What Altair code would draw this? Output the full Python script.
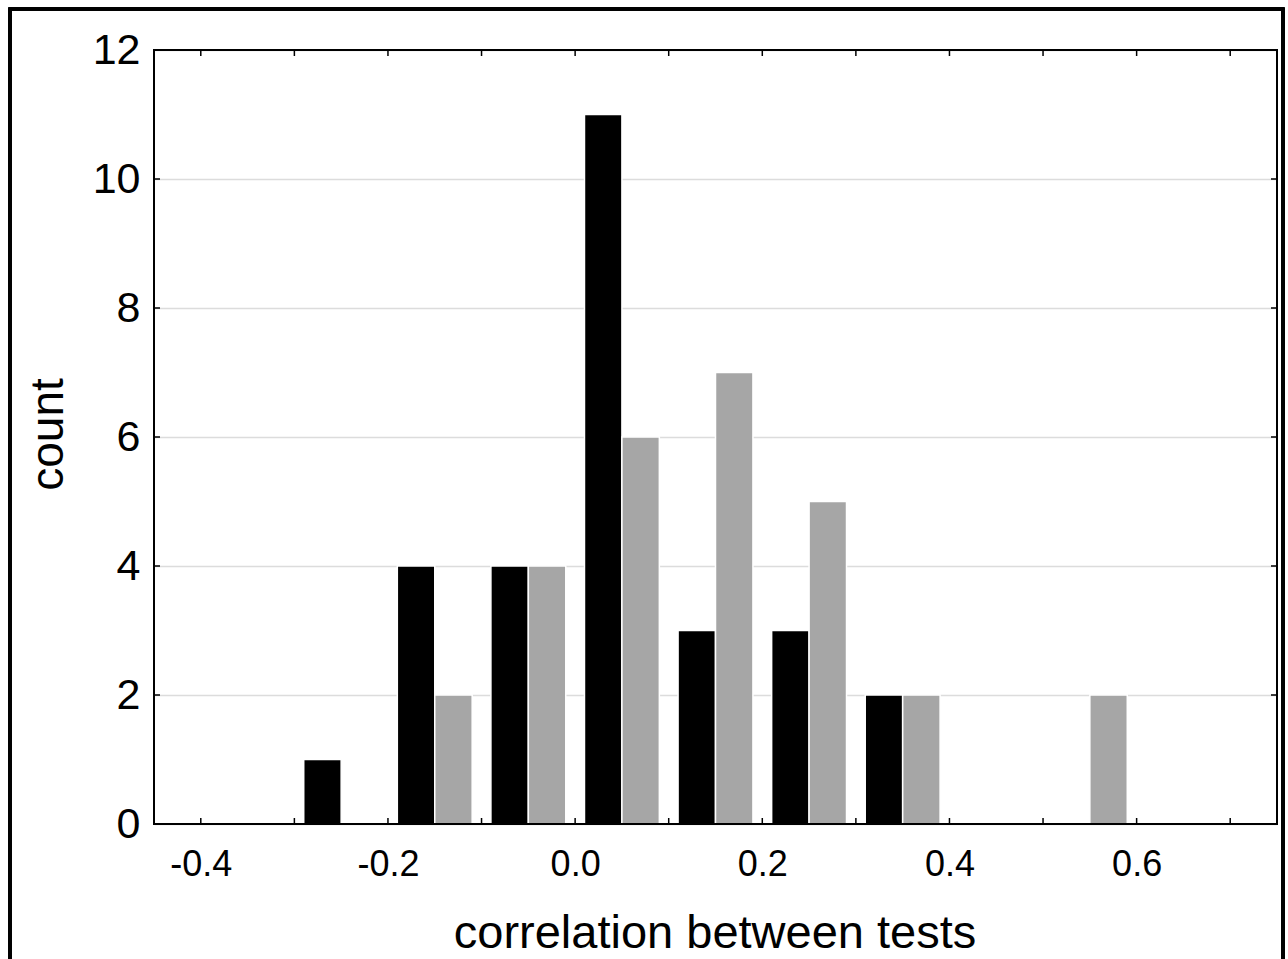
import altair as alt
import pandas as pd

# ---- data ----
bin_starts = [-0.3, -0.2, -0.1, 0.0, 0.1, 0.2, 0.3, 0.4, 0.5]
black_counts = [1, 4, 4, 11, 3, 3, 2, 0, 0]
gray_counts = [0, 2, 4, 6, 7, 5, 2, 0, 2]
series_names = ["black", "gray"]

x_tick_values = [-0.4, -0.3, -0.2, -0.1, 0.0, 0.1, 0.2, 0.3, 0.4, 0.5, 0.6, 0.7]
x_label_values = [-0.4, -0.2, 0.0, 0.2, 0.4, 0.6]
y_tick_values = [0, 2, 4, 6, 8, 10, 12]

rows = []
for b, c in zip(bin_starts, black_counts):
    rows.append({"bin": b, "count": c, "series": series_names[0], "idx": 0})
for b, c in zip(bin_starts, gray_counts):
    rows.append({"bin": b, "count": c, "series": series_names[1], "idx": 1})
df = pd.DataFrame(rows)

xt = pd.DataFrame({"v": x_tick_values})
yt = pd.DataFrame({"v": y_tick_values})

W, H = 1123, 774
FONT = "Liberation Sans"

xscale = alt.Scale(domain=[-0.45, 0.75], nice=False, zero=False)
yscale = alt.Scale(domain=[0, 12], nice=False, zero=True)

bars = (
    alt.Chart(df)
    .transform_filter("datum.count > 0")
    .transform_calculate(x0="datum.bin + 0.01 + 0.04*datum.idx",
                         x1="datum.bin + 0.05 + 0.04*datum.idx")
    .mark_rect(stroke="white", strokeWidth=1.5)
    .encode(
        x=alt.X("x0:Q", scale=xscale,
                axis=alt.Axis(values=x_label_values, format=".1f",
                              labelExpr="replace(datum.label, '\u2212', '-')",
                              tickSize=0,
                              domain=False, grid=False, labelFontSize=36,
                              labelFont=FONT, labelColor="black", labelPadding=23,
                              title="correlation between tests", titleFont=FONT,
                              titleFontSize=47, titleFontWeight="normal",
                              titleColor="black", titleBaseline="alphabetic",
                              titleY=123, titleX=W / 2 - 1, titleAlign="center")),
        x2="x1:Q",
        y=alt.Y("count:Q", scale=yscale,
                axis=alt.Axis(values=y_tick_values, format="d", tickSize=0, domain=False,
                              grid=True, gridColor="#dcdcdc", gridWidth=1.5,
                              labelFontSize=43, labelFont=FONT, labelColor="black",
                              labelPadding=14, title="count", titleFont=FONT,
                              titleFontSize=46, titleFontWeight="normal",
                              titleColor="black", titleAngle=270,
                              titleBaseline="alphabetic", titleAlign="center",
                              titleX=-92, titleY=384)),
        y2=alt.datum(0),
        color=alt.Color("series:N",
                        scale=alt.Scale(domain=series_names, range=["#000000", "#a6a6a6"]),
                        legend=None),
    )
)

tick_style = dict(color="black", strokeWidth=1.5)

xticks_bottom = alt.Chart(xt).mark_rule(**tick_style).encode(
    x=alt.X("v:Q", scale=xscale), y=alt.value(H), y2=alt.value(H - 6))
xticks_top = alt.Chart(xt).mark_rule(**tick_style).encode(
    x=alt.X("v:Q", scale=xscale), y=alt.value(0), y2=alt.value(6))
yticks_left = alt.Chart(yt).mark_rule(**tick_style).encode(
    y=alt.Y("v:Q", scale=yscale), x=alt.value(0), x2=alt.value(6))
yticks_right = alt.Chart(yt).mark_rule(**tick_style).encode(
    y=alt.Y("v:Q", scale=yscale), x=alt.value(W - 6), x2=alt.value(W))

plot_frame = alt.Chart(yt).mark_rect(fill="transparent", stroke="black", strokeWidth=2).encode(
    x=alt.value(0), x2=alt.value(W), y=alt.value(0), y2=alt.value(H))

outer_frame = alt.Chart(yt).mark_rect(fill="transparent", stroke="black", strokeWidth=3).encode(
    x=alt.value(10 - 154), x2=alt.value(1283 - 154), y=alt.value(9 - 50), y2=alt.value(1000))

chart = (
    alt.layer(bars, xticks_bottom, xticks_top, yticks_left, yticks_right, plot_frame, outer_frame)
    .properties(width=W, height=H,
                autosize=alt.AutoSizeParams(type="none"),
                padding={"left": 154, "top": 50, "right": 11, "bottom": 135},
                background="white")
    .configure_view(stroke=None)
)

chart.save("out.html", embed_options={"renderer": "svg", "actions": False})
